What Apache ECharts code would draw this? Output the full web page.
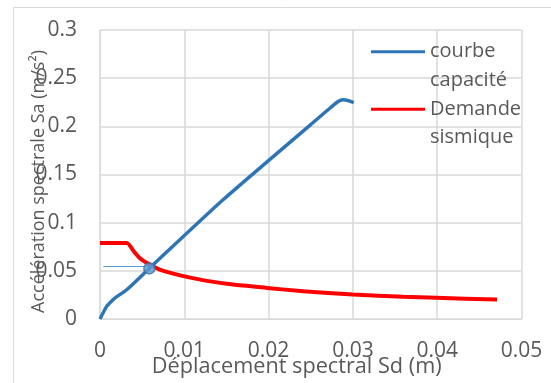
<!DOCTYPE html>
<html><head><meta charset="utf-8">
<script src="https://cdn.jsdelivr.net/npm/echarts@6/dist/echarts.min.js"></script>
<style>html,body{margin:0;padding:0;background:#fff;}#c{width:551px;height:383px;}</style>
</head><body><div id="c"></div>
<script>
const capacityCurve = [[0,0],[0.0004,0.007],[0.0008,0.0133],[0.0013,0.018],[0.0018,0.022],[0.0032,0.0306],[0.0059,0.053],[0.0146,0.1238],[0.0273,0.219],[0.0282,0.2255],[0.0288,0.2275],[0.0295,0.2265],[0.0301,0.2245]];
const demandCurve = [[0,0.079],[0.0032,0.079],[0.0040,0.0703],[0.0047,0.0634],[0.0059,0.0565],[0.0071,0.0513],[0.0087,0.0471],[0.0103,0.0437],[0.0127,0.0396],[0.0158,0.0357],[0.0198,0.0323],[0.0241,0.0288],[0.0300,0.0254],[0.0360,0.0230],[0.0399,0.0220],[0.0471,0.0202]];
const guideLine = [[0.0004,0.0545],[0.0059,0.0545]];
const perfPoint = [[0.00585,0.0525]];
const seriesNames = ['courbe capacité','Demande sismique'];
const legendLabels = {'courbe capacité':' \ncourbe\ncapacité', 'Demande sismique':' \nDemande\nsismique'};
const xTitle = 'Déplacement spectral Sd (m)';
const yTitle = 'Accélération spectrale Sa (m/s²)';

const txt = '#595959', grid = '#d9d9d9', font = 'Open Sans';
const chart = echarts.init(document.getElementById('c'));
const legendCommon = {
  orient:'vertical', left: 366, itemWidth: 54, itemHeight: 14, itemGap: 0,
  icon: 'path://M0,5.5L54,5.5L54,8.5L0,8.5Z',
  formatter: n => legendLabels[n],
  textStyle:{color:txt, fontFamily:font, fontSize:20, lineHeight:28.5}
};
chart.setOption({
  animation:false,
  graphic:[{type:'rect', shape:{x:13.5,y:7.5,width:600,height:500}, style:{fill:'none', stroke:grid, lineWidth:1}, silent:true}],
  grid:{left:100, top:30, right:29.5, bottom:63.5},
  legend:[
    Object.assign({}, legendCommon, {top: 4, data:[{name:seriesNames[0]}]}),
    Object.assign({}, legendCommon, {top: 61.5, data:[{name:seriesNames[1]}]})
  ],
  xAxis:{type:'value', min:0, max:0.05, interval:0.01,
    name:xTitle, nameLocation:'middle', nameGap:37, nameMoveOverlap:false,
    nameTextStyle:{color:txt, fontFamily:font, fontSize:21.7, padding:[0,28,0,0]},
    axisLine:{show:true, lineStyle:{color:grid}}, axisTick:{show:false},
    axisLabel:{color:txt, fontFamily:font, fontSize:21, margin:22},
    splitLine:{show:true, lineStyle:{color:grid, width:1.5}}},
  yAxis:{type:'value', min:0, max:0.3, interval:0.05,
    name:yTitle, nameLocation:'middle', nameGap:52, nameRotate:90, nameMoveOverlap:false,
    nameTextStyle:{color:txt, fontFamily:font, fontSize:18, padding:[0,14,0,0]},
    axisLine:{show:true, lineStyle:{color:grid}}, axisTick:{show:false},
    axisLabel:{color:txt, fontFamily:font, fontSize:21, margin:23},
    splitLine:{show:true, lineStyle:{color:grid, width:1.5}}},
  series:[
    {name:seriesNames[0], type:'line', data:capacityCurve, smooth:0.2, showSymbol:false, lineStyle:{color:'#2e75b6', width:3.5}, itemStyle:{color:'#2e75b6'}, z:3},
    {name:seriesNames[1], type:'line', data:demandCurve, smooth:0.2, showSymbol:false, lineStyle:{color:'#ff0000', width:4}, itemStyle:{color:'#ff0000'}, z:2},
    {type:'line', data:guideLine, showSymbol:false, lineStyle:{color:'#5b9bd5', width:1}, z:2},
    {type:'scatter', data:perfPoint, symbolSize:11, itemStyle:{color:'#5b9bd5', borderColor:'#41719c', borderWidth:1.5}, z:5}
  ]
});
</script></body></html>
